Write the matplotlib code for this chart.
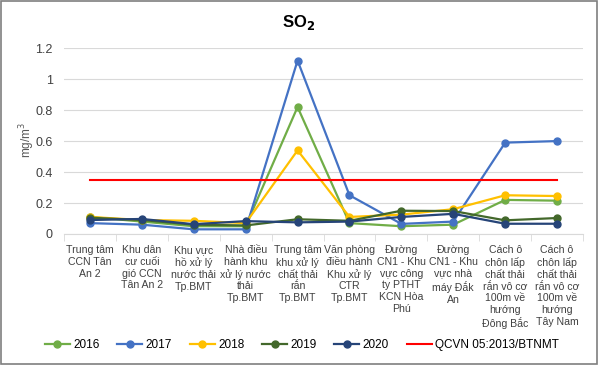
import matplotlib
matplotlib.use("Agg")
import matplotlib.pyplot as plt
from matplotlib.patches import Rectangle

plt.rcParams["font.family"] = ["Liberation Sans", "DejaVu Sans"]

locations = [
    "Trung tâm\nCCN Tân\nAn 2",
    "Khu dân\ncư cuối\ngió CCN\nTân An 2",
    "Khu vực\nhồ xử lý\nnước thải\nTp.BMT",
    "Nhà điều\nhành khu\nxử lý nước\nthải\nTp.BMT",
    "Trung tâm\nkhu xử lý\nchất thải\nrắn\nTp.BMT",
    "Văn phòng\nđiều hành\nKhu xử lý\nCTR\nTp.BMT",
    "Đường\nCN1 - Khu\nvực công\nty PTHT\nKCN Hòa\nPhú",
    "Đường\nCN1 - Khu\nvực nhà\nmáy Đắk\nAn",
    "Cách ô\nchôn lấp\nchất thải\nrắn vô cơ\n100m về\nhướng\nĐông Bắc",
    "Cách ô\nchôn lấp\nchất thải\nrắn vô cơ\n100m về\nhướng\nTây Nam",
]

so2_2016 = [0.11, 0.08, 0.05, 0.05, 0.82, 0.07, 0.05, 0.06, 0.22, 0.215]
so2_2017 = [0.07, 0.06, 0.03, 0.03, 1.12, 0.25, 0.065, 0.08, 0.59, 0.60]
so2_2018 = [0.11, 0.09, 0.085, 0.07, 0.54, 0.11, 0.125, 0.16, 0.25, 0.245]
so2_2019 = [0.105, 0.09, 0.06, 0.055, 0.095, 0.085, 0.15, 0.148, 0.088, 0.103]
so2_2020 = [0.09, 0.097, 0.063, 0.083, 0.075, 0.08, 0.11, 0.13, 0.066, 0.066]
qcvn_limit = [0.35] * len(locations)

series = [
    ("2016", so2_2016, "#70AD47"),
    ("2017", so2_2017, "#4472C4"),
    ("2018", so2_2018, "#FFC000"),
    ("2019", so2_2019, "#43682B"),
    ("2020", so2_2020, "#264478"),
]

fig = plt.figure(figsize=(5.98, 3.65), dpi=100)
ax = fig.add_axes([0.107, 0.359, 0.868, 0.509])

x = list(range(len(locations)))
for name, values, color in series:
    ax.plot(x, values, color=color, lw=1.6, marker="o", ms=5, label=name)
ax.plot(x, qcvn_limit, color="#FF0000", lw=1.5, label="QCVN 05:2013/BTNMT")

ax.set_xlim(-0.5, len(locations) - 0.5)
ax.set_ylim(0, 1.2)
ax.set_yticks([0, 0.2, 0.4, 0.6, 0.8, 1.0, 1.2])
ax.set_yticklabels(["0", "0.2", "0.4", "0.6", "0.8", "1", "1.2"])
ax.grid(axis="y", color="#D9D9D9", lw=0.8)
ax.set_axisbelow(True)
for side in ["top", "right", "left"]:
    ax.spines[side].set_visible(False)
ax.spines["bottom"].set_color("#D9D9D9")

ax.set_xticks(x)
ax.set_xticklabels(locations, fontsize=7.6, linespacing=1.22, color="#404040")
ax.set_xticks([i - 0.5 for i in range(len(locations) + 1)], minor=True)
ax.tick_params(axis="x", which="major", length=0, pad=8)
ax.tick_params(axis="x", which="minor", length=5, color="#D9D9D9")
ax.tick_params(axis="y", length=0, labelsize=9, labelcolor="#404040", pad=8)

fig.text(0.045, 0.616, "mg/m$^3$", rotation=90, ha="center", va="center",
         fontsize=8.5, color="#595959")
fig.text(0.5, 0.938, "SO$_\\mathbf{2}$", ha="center", va="center",
         fontsize=12, fontweight="bold")

fig.legend(loc="center", bbox_to_anchor=(0.505, 0.055), ncol=6, frameon=False,
           fontsize=8.5, handlelength=2.1, columnspacing=1.5, handletextpad=0.3)

fig.patches.append(Rectangle((0.002, 0.003), 0.996, 0.994, transform=fig.transFigure,
                             fill=False, edgecolor="#7F7F7F", lw=1.2))

fig.savefig("out.png", dpi=100)
